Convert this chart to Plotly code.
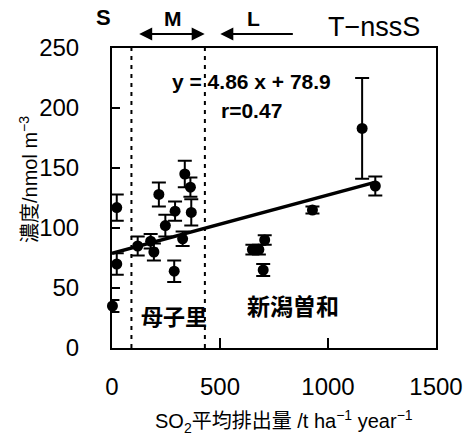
import plotly.graph_objects as go

# ---- data ----
emission = [2, 22, 22, 119, 179, 194, 217, 247, 292, 288, 327, 337, 363, 367, 650, 680, 707, 700, 928, 1158, 1219]
concentration = [35, 117, 70, 85, 89, 80, 128, 102, 114, 64, 91, 145, 134, 113, 82, 82, 90, 65, 115, 183, 135]
error = [5, 11, 9, 8, 6, 7, 10, 9, 8, 9, 6, 11, 8, 11, 4, 4, 4, 5, 3, 42, 8]

fit_slope = 4.86 / 100.0   # per t ha-1 year-1
fit_intercept = 78.9
fit_x = [0, 1225]
fit_y = [fit_intercept + fit_slope * v for v in fit_x]

boundaries = [90, 430]   # S/M and M/L boundaries (dotted lines)

x_ticks = [0, 500, 1000, 1500]
y_ticks = [0, 50, 100, 150, 200, 250]

W, H = 475, 442
L, R, T, B = 112, 444, 48, 348


def px(x):
    return (x - L) / (R - L)


def py(y):
    return (B - y) / (B - T)


FONT = "Liberation Sans, Arial, Noto Sans CJK JP, sans-serif"

fig = go.Figure()

for bx in boundaries:
    fig.add_trace(go.Scatter(
        x=[bx, bx], y=[0, 250], mode="lines",
        line=dict(color="black", width=2, dash="4px,5px"),
        hoverinfo="skip", showlegend=False))

fig.add_trace(go.Scatter(
    x=fit_x, y=fit_y, mode="lines",
    line=dict(color="black", width=3.5), showlegend=False))

fig.add_trace(go.Scatter(
    x=emission, y=concentration, mode="markers", cliponaxis=False,
    marker=dict(color="black", size=11),
    error_y=dict(type="data", array=error, color="black", thickness=2, width=7),
    showlegend=False))

ann = []
# Axis titles
ann.append(dict(text="濃度/nmol m<sup>−3</sup>", x=px(27), y=py(180), xref="paper", yref="paper",
                textangle=-90, showarrow=False, font=dict(size=20, color="black", family=FONT),
                xanchor="center", yanchor="middle"))
ann.append(dict(text="SO<sub>2</sub>平均排出量 /t ha<sup>−1</sup> year<sup>−1</sup>", x=px(288), y=py(421),
                xref="paper", yref="paper", showarrow=False,
                font=dict(size=20, color="black", family=FONT), xanchor="center", yanchor="middle"))
# Top labels
for txt, xx, yy, sz in [("<b>S</b>", 103, 17, 22), ("<b>M</b>", 175, 19, 21), ("<b>L</b>", 257, 19, 21)]:
    ann.append(dict(text=txt, x=px(xx), y=py(yy), xref="paper", yref="paper", showarrow=False,
                    font=dict(size=sz, color="black", family=FONT), xanchor="center", yanchor="middle"))
ann.append(dict(text="T−nssS", x=px(380), y=py(27), xref="paper", yref="paper", showarrow=False,
                font=dict(size=27, color="black", family=FONT), xanchor="center", yanchor="middle"))
# Arrows
ann.append(dict(text="", x=px(207), y=py(34), xref="paper", yref="paper", showarrow=True,
                ax=-67, ay=0, arrowhead=2, startarrowhead=2, arrowside="end+start",
                arrowsize=1.3, startarrowsize=1.3, arrowwidth=2, arrowcolor="black"))
ann.append(dict(text="", x=px(223), y=py(34), xref="paper", yref="paper", showarrow=True,
                ax=74, ay=0, arrowhead=2, arrowsize=1.3, arrowwidth=2, arrowcolor="black"))
# Equation
ann.append(dict(text="<b>y = 4.86 x + 78.9</b>", x=px(255), y=py(82), xref="paper", yref="paper",
                showarrow=False, font=dict(size=21, color="black", family=FONT),
                xanchor="center", yanchor="middle"))
ann.append(dict(text="<b>r=0.47</b>", x=px(255), y=py(110), xref="paper", yref="paper",
                showarrow=False, font=dict(size=21, color="black", family=FONT),
                xanchor="center", yanchor="middle"))
# Site names
ann.append(dict(text="<b>母子里</b>", x=px(176), y=py(317), xref="paper", yref="paper",
                showarrow=False, font=dict(size=22, color="black", family=FONT),
                xanchor="center", yanchor="middle"))
ann.append(dict(text="<b>新潟曽和</b>", x=px(297), y=py(307), xref="paper", yref="paper",
                showarrow=False, font=dict(size=23, color="black", family=FONT),
                xanchor="center", yanchor="middle"))

fig.update_layout(
    width=W, height=H,
    margin=dict(l=L, r=W - R, t=T, b=H - B, pad=0),
    paper_bgcolor="white", plot_bgcolor="white",
    font=dict(family=FONT, color="black"),
    annotations=ann,
    xaxis=dict(range=[0, 1500], tickvals=x_ticks, ticktext=[str(v) for v in x_ticks],
               ticks="inside", ticklen=10, tickwidth=2, tickcolor="black",
               showline=True, linecolor="black", linewidth=2, mirror=True,
               showgrid=False, zeroline=False, ticklabelstandoff=16,
               tickfont=dict(size=24, color="black", family=FONT)),
    yaxis=dict(range=[0, 250], tickvals=y_ticks, ticktext=[str(v) for v in y_ticks],
               ticks="inside", ticklen=8, tickwidth=2, tickcolor="black",
               showline=True, linecolor="black", linewidth=2, mirror=True,
               showgrid=False, zeroline=False, ticklabelstandoff=26,
               tickfont=dict(size=24, color="black", family=FONT)),
)

fig.write_html("out.html")
